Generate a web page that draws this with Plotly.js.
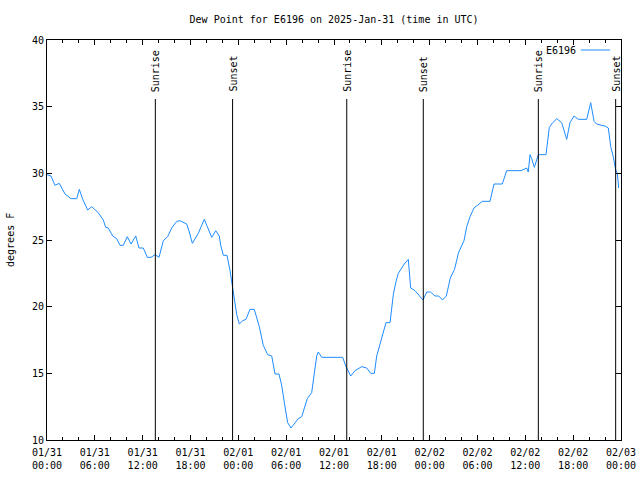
<!DOCTYPE html>
<html>
<head>
<meta charset="utf-8">
<script src="https://cdn.plot.ly/plotly-3.0.1.min.js"></script>
<style>html,body{margin:0;padding:0;background:#fff;}#chart{width:640px;height:480px;}</style>
</head>
<body>
<div id="chart"></div>
<script>
// Hours after 2025-01-31 00:00 UTC
const hours = [0,0.5,1.0,1.54,2.26,3.01,3.73,4.05,4.48,5.1,5.61,6.43,7.06,7.36,7.69,8.24,8.74,9.16,9.57,10.07,
  10.54,11.13,11.54,12.08,12.58,13.05,13.55,14.05,14.59,15.14,15.64,16.27,16.68,17.52,17.85,18.23,18.98,19.73,20.66,21.16,
  21.61,21.79,22.12,22.58,22.96,23.24,23.5,23.8,24.12,24.55,24.96,25.46,26.0,26.63,27.13,27.68,28.19,28.6,29.1,29.44,
  29.85,30.19,30.61,31.02,31.52,31.95,32.24,32.65,33.2,33.53,33.83,34.03,34.46,37.09,37.5,38.1,38.63,39.47,40.1,40.6,
  41.06,41.36,41.77,42.19,42.52,43.03,43.24,43.44,43.78,44.07,44.49,44.82,45.32,45.53,45.62,46.16,46.79,47.16,47.63,48.1,
  48.67,49.13,49.61,50.09,50.59,51.12,51.62,52.31,52.65,53.06,53.56,54.6,55.57,56.07,57.11,57.66,59.46,60.17,60.37,60.59,
  60.8,61.13,61.63,62.59,63.01,63.43,63.94,64.56,65.19,65.6,66.11,66.65,67.7,68.2,68.62,68.95,69.58,70.0,70.41,70.71,
  71.03,71.33,71.54,71.71];
const dewPoint = [29.9,29.8,29.1,29.25,28.45,28.1,28.1,28.8,28.05,27.25,27.5,27.05,26.5,25.95,25.9,25.3,25.1,24.6,24.6,25.25,
  24.7,25.3,24.4,24.4,23.7,23.7,23.9,23.7,24.95,25.25,25.9,26.4,26.45,26.2,25.6,24.75,25.5,26.55,25.2,25.7,
  25.3,24.6,23.85,23.85,22.7,21.5,20.3,19.4,18.7,18.95,19.05,19.8,19.8,18.5,17.1,16.4,16.3,14.95,14.95,14.1,
  12.5,11.3,10.9,11.2,11.6,11.75,12.25,13.1,13.55,14.9,16.3,16.6,16.2,16.2,15.5,14.8,15.2,15.5,15.4,15.0,
  15.0,16.3,17.25,18.05,18.8,18.8,19.75,20.9,21.9,22.5,22.9,23.2,23.55,22.1,21.4,21.2,20.8,20.5,21.1,21.1,
  20.8,20.8,20.5,20.8,22.15,22.8,24.05,24.95,26.0,26.75,27.4,27.9,27.9,29.2,29.2,30.2,30.2,30.4,30.1,31.4,
  31.1,30.45,31.4,31.4,33.45,33.8,34.1,33.8,32.55,33.8,34.3,34.05,34.05,35.3,33.9,33.7,33.6,33.55,33.4,32.0,
  31.25,30.25,30.0,28.9];
const sunEventNames = ["Sunrise","Sunset","Sunrise","Sunset","Sunrise","Sunset"];
const sunEventHours = [13.59,23.28,37.6,47.2,61.63,71.33];
const stationName = "E6196";
const titleText = "Dew Point for E6196 on 2025-Jan-31 (time in UTC)";
const yTitle = "degrees F";

const base = Date.UTC(2025,0,31,0,0,0);
function toTime(h){
  const d = new Date(base + Math.round(h*3600000));
  return d.toISOString().replace('T',' ').slice(0,19);
}
const times = hours.map(toTime);
const font = {family: "DejaVu Sans Mono, monospace", size: 10, color: "#000"};
const lineColor = "#1e8cff";

const shapes = sunEventHours.map(h => ({
  type: "line", xref: "x", yref: "paper",
  x0: toTime(h), x1: toTime(h), y0: 0, y1: 0.8525,
  line: {color: "#000", width: 1}
}));
shapes.push({type: "line", xref: "paper", yref: "paper", x0: 0.930, x1: 0.981, y0: 0.975, y1: 0.975,
  line: {color: lineColor, width: 1}});

const annotations = sunEventNames.map((n,i) => ({
  text: n, xref: "x", yref: "paper", x: toTime(sunEventHours[i]), y: 0.865,
  xanchor: "center", yanchor: "bottom", textangle: -90, showarrow: false, font: font
}));
annotations.push({text: stationName, xref: "paper", yref: "paper", x: 0.925, y: 0.975,
  xanchor: "right", yanchor: "middle", showarrow: false, font: font});
annotations.push({text: yTitle, xref: "paper", yref: "paper", x: -0.0645, y: 0.5,
  xanchor: "center", yanchor: "middle", textangle: -90, showarrow: false, font: font});

const trace = {x: times, y: dewPoint, type: "scatter", mode: "lines", name: stationName,
  line: {color: lineColor, width: 1}, showlegend: false};

const layout = {
  width: 640, height: 480,
  margin: {l: 47, r: 19, t: 40, b: 40},
  paper_bgcolor: "#fff", plot_bgcolor: "#fff",
  font: font,
  title: {text: titleText, font: font, x: 0.522, xanchor: "center", y: 0.9604, yref: "container", yanchor: "middle"},
  xaxis: {
    type: "date",
    range: [toTime(0), toTime(72)],
    dtick: 6*3600000, tick0: toTime(0),
    tickformat: "%m/%d<br>%H:%M",
    ticks: "inside", ticklen: 5, tickcolor: "#000",
    ticklabelstandoff: 3,
    minor: {dtick: 2*3600000, ticks: "inside", ticklen: 3, tickcolor: "#000"},
    showline: true, linecolor: "#000", linewidth: 1, mirror: "ticks",
    showgrid: false, zeroline: false, tickfont: font
  },
  yaxis: {
    range: [10, 40], dtick: 5,
    ticks: "inside", ticklen: 5, tickcolor: "#000",
    showline: true, linecolor: "#000", linewidth: 1, mirror: "ticks",
    showgrid: false, zeroline: false, tickfont: font
  },
  shapes: shapes,
  annotations: annotations,
  showlegend: false
};

Plotly.newPlot("chart", [trace], layout, {staticPlot: true, displayModeBar: false});
</script>
</body>
</html>
